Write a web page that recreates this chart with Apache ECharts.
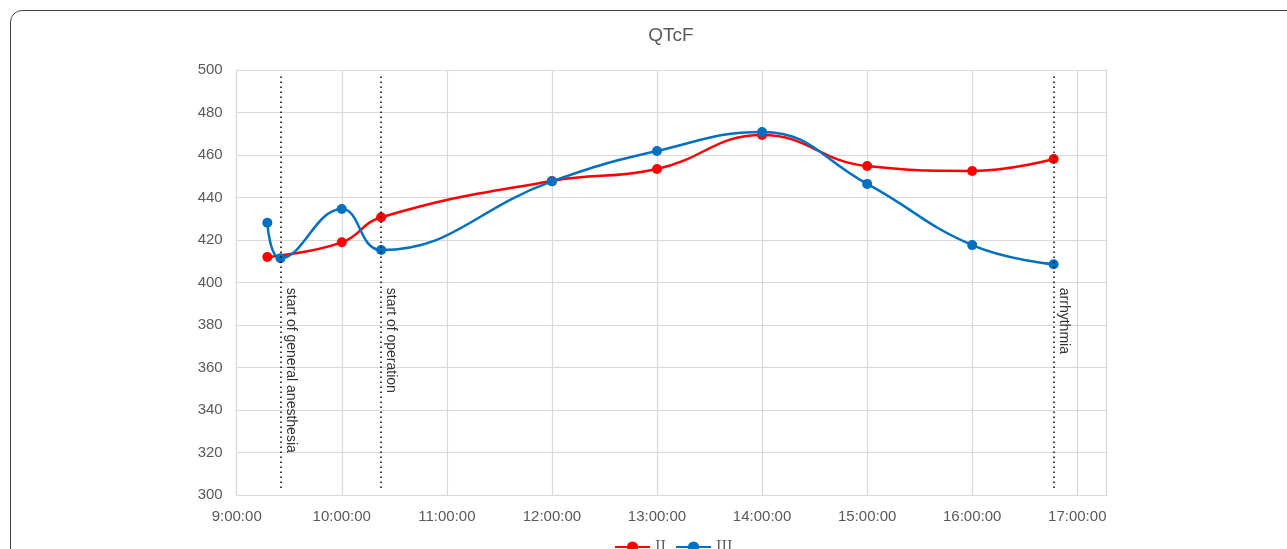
<!DOCTYPE html>
<html>
<head>
<meta charset="utf-8">
<script src="https://cdn.jsdelivr.net/npm/echarts@6/dist/echarts.min.js"></script>
<style>
html,body{margin:0;padding:0;background:#fff;overflow:hidden;}
#frame{position:absolute;left:10px;top:10px;width:1400px;height:700px;border:1.5px solid #444;border-radius:12px;box-sizing:border-box;}
#chart{position:absolute;left:0;top:0;width:1287px;height:549px;}
</style>
</head>
<body>
<div id="frame"></div>
<div id="chart"></div>
<script>
// measurement times (h:mm)
const timesII  = ["9:17.5", "10:00", "10:22.5", "12:00", "13:00", "14:00", "15:00", "16:00", "16:46.5"];
const valuesII = [412, 418.9, 430.7, 447.8, 453.4, 469.4, 454.8, 452.5, 458.1];
const timesIII  = ["9:17.5", "9:25", "10:00", "10:22.5", "12:00", "13:00", "14:00", "15:00", "16:00", "16:46.5"];
const valuesIII = [428.1, 411.4, 434.6, 415.3, 447.6, 461.9, 470.8, 446.4, 417.6, 408.6];
// event annotations
const eventTimes = ["9:25", "10:22.5", "16:46.5"];
const eventLabels = ["start of general anesthesia", "start of operation", "arrhythmia"];

function toHours(s){ const p = s.split(":"); return parseInt(p[0],10) + parseFloat(p[1])/60; }
function fmt(v){ return Math.round(v) + ":00:00"; }

const TEXT = "#595959";
const chart = echarts.init(document.getElementById('chart'), null, {renderer:'canvas'});
const dataII = timesII.map((t,i)=>[toHours(t), valuesII[i]]);
const dataIII = timesIII.map((t,i)=>[toHours(t), valuesIII[i]]);

const option = {
  animation:false,
  backgroundColor:'transparent',
  title:{text:'QTcF', left:666, textAlign:'center', top:21, textStyle:{fontFamily:'Liberation Sans, Arial', fontSize:19, fontWeight:'normal', color:TEXT}},
  grid:{left:236.7, right:180.3, top:70, bottom:54},
  xAxis:{type:'value', min:9, max:17.28, interval:1,
    axisLine:{show:true, lineStyle:{color:'#D9D9D9', width:1.2}},
    axisTick:{show:false},
    splitLine:{show:true, lineStyle:{color:'#D9D9D9', width:1.2}},
    axisLabel:{formatter:fmt, color:TEXT, fontSize:15, fontFamily:'Liberation Sans, Arial', margin:14, showMaxLabel:false}
  },
  yAxis:{type:'value', min:300, max:500, interval:20,
    axisLine:{show:true, lineStyle:{color:'#D9D9D9', width:1.2}},
    axisTick:{show:false},
    splitLine:{show:true, lineStyle:{color:'#D9D9D9', width:1.2}},
    axisLabel:{color:TEXT, fontSize:15, fontFamily:'Liberation Sans, Arial', margin:14}
  },
  legend:{top:535, left:609, itemWidth:35, itemHeight:14, itemGap:9,
    textStyle:{color:TEXT, fontSize:14, fontFamily:'DejaVu Serif, serif'},
    data:['II','III']},
  series:[
    {name:'II', type:'line', smooth:0.45, data:dataII, symbol:'circle', symbolSize:10,
      lineStyle:{color:'#FF0000', width:2.5}, itemStyle:{color:'#FF0000'}, z:3},
    {name:'III', type:'line', smooth:0.45, data:dataIII, symbol:'circle', symbolSize:10,
      lineStyle:{color:'#0070C0', width:2.5}, itemStyle:{color:'#0070C0'}, z:4,
      markLine:{silent:true, symbol:['none','none'], label:{show:false},
        lineStyle:{type:[1.5,3.5], color:'#000', width:1.5},
        data: eventTimes.map(t=>[{coord:[toHours(t),303.3]},{coord:[toHours(t),497.6]}])
      }}
  ]
};
chart.setOption(option);

const g = eventTimes.map((t,i)=>{
  const p = chart.convertToPixel({gridIndex:0}, [toHours(t), 397.5]);
  return {type:'text', x:p[0]+10, y:p[1], rotation:-Math.PI/2,
    style:{text:eventLabels[i], fill:'#333', font:'14px "Liberation Sans", Arial', textAlign:'left', textVerticalAlign:'middle'}};
});
chart.setOption({graphic:g});
</script>
</body>
</html>
